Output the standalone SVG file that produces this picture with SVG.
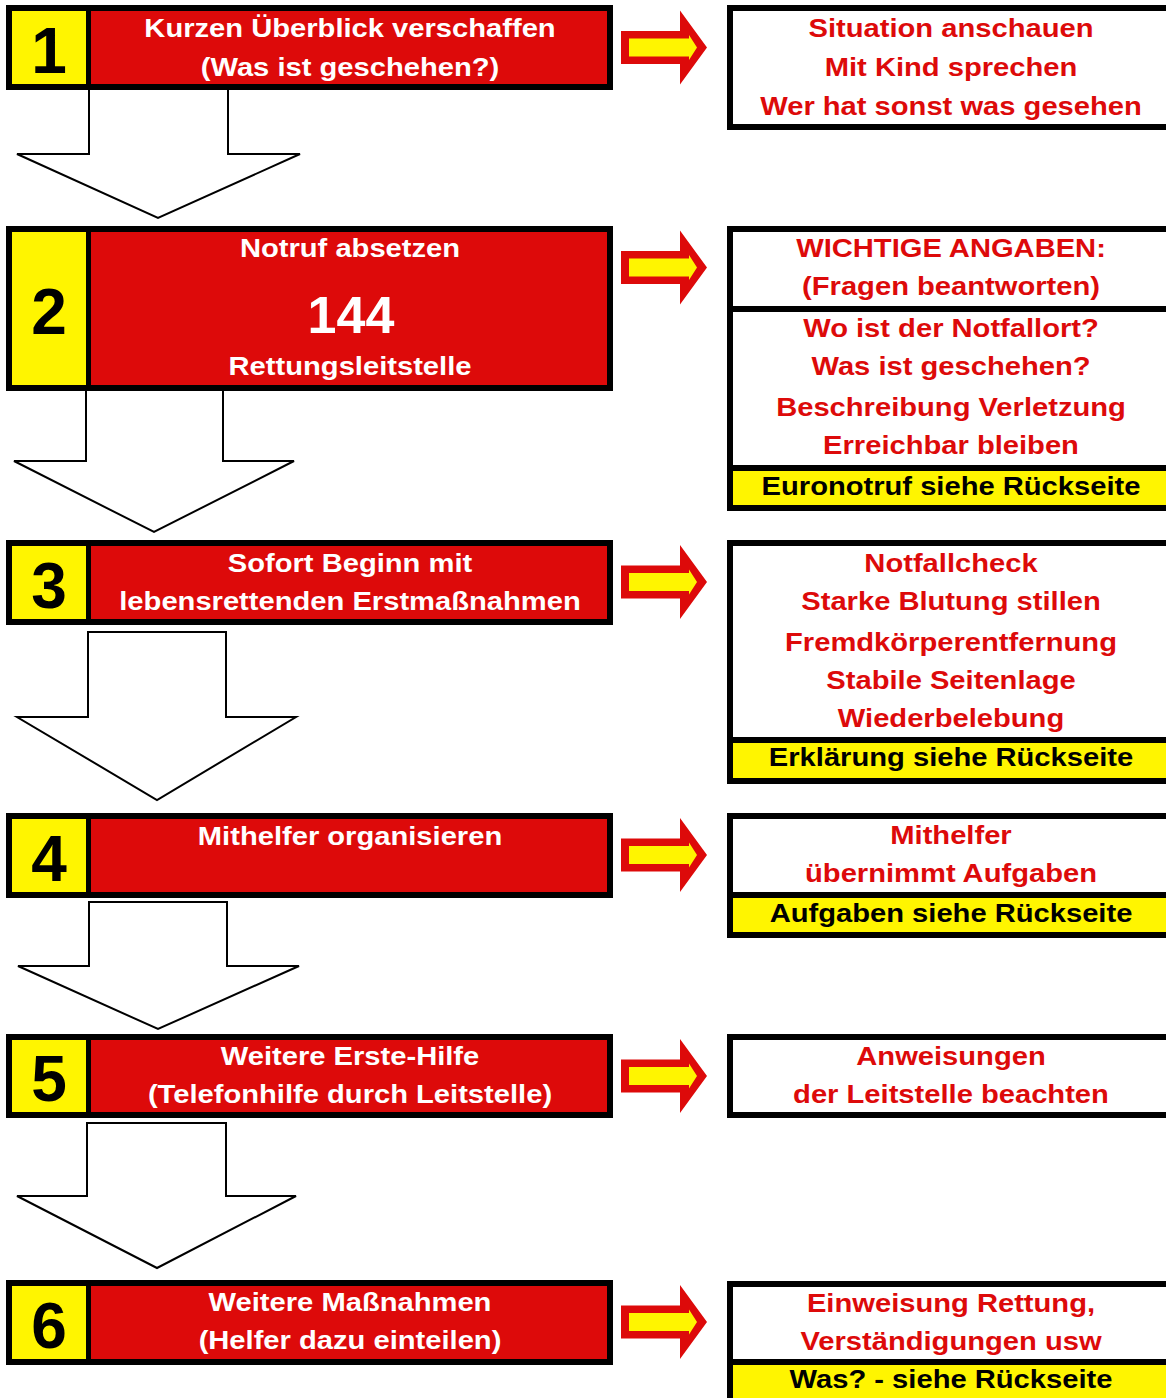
<svg xmlns="http://www.w3.org/2000/svg" xmlns:xlink="http://www.w3.org/1999/xlink" width="1166" height="1398" viewBox="0 0 1166 1398">
<style>
.blk{fill:#000}
.yel{fill:#FFF500}
.red{fill:#DD0A0A}
.wht{fill:#fff}
.t{font-family:"Liberation Sans",Arial,sans-serif;font-weight:bold;font-size:26.5px;text-anchor:middle}
.w{fill:#fff}
.r{fill:#DD0A0A}
.k{fill:#000}
.num{font-family:"Liberation Sans",Arial,sans-serif;font-weight:bold;font-size:64px;text-anchor:middle;fill:#000}
.big{font-family:"Liberation Sans",Arial,sans-serif;font-weight:bold;font-size:52px;text-anchor:middle;fill:#fff}
.down{fill:#fff;stroke:#000;stroke-width:2;stroke-linejoin:miter}
</style>
<defs>
<g id="ra">
<polygon points="621,-16.5 680,-16.5 680,-37 707,0 680,37 680,16.5 621,16.5" fill="#DD0A0A"/>
<polygon points="629,-9 689,-9 689,-12.5 697,0 689,12.5 689,9 629,9" fill="#FFF500"/>
</g>
</defs>
<rect width="1166" height="1398" fill="#fff"/>
<g id="connectors">
<polygon class="down" points="89,88 228,88 228,154 300,154 158,218 17,154 89,154"/>
<polygon class="down" points="86,389 223,389 223,461 294,461 154,532 14,461 86,461"/>
<polygon class="down" points="88,632 226,632 226,717 296,717 157,800 17,717 88,717"/>
<polygon class="down" points="89,902 227,902 227,966 299,966 158,1029 18,966 89,966"/>
<polygon class="down" points="87,1123 226,1123 226,1196 296,1196 157,1268 17,1196 87,1196"/>
<use xlink:href="#ra" href="#ra" transform="translate(0,47.5)"/>
<use xlink:href="#ra" href="#ra" transform="translate(0,267.5)"/>
<use xlink:href="#ra" href="#ra" transform="translate(0,582)"/>
<use xlink:href="#ra" href="#ra" transform="translate(0,855)"/>
<use xlink:href="#ra" href="#ra" transform="translate(0,1076)"/>
<use xlink:href="#ra" href="#ra" transform="translate(0,1322)"/>
</g>
<g id="step1">
<rect class="blk" x="6" y="5" width="607" height="85"/>
<rect class="yel" x="12" y="11" width="74" height="73"/>
<rect class="red" x="91" y="11" width="516" height="73"/>
<text class="num" x="49" y="73">1</text>
<text class="t w" transform="translate(350,37) scale(1.1,1)">Kurzen Überblick verschaffen</text>
<text class="t w" transform="translate(350,76) scale(1.1,1)">(Was ist geschehen?)</text>
</g>
<g id="info1">
<rect class="blk" x="727" y="5" width="445" height="125"/>
<rect class="wht" x="733" y="11" width="439" height="113"/>
<text class="t r" transform="translate(951,37) scale(1.1,1)">Situation anschauen</text>
<text class="t r" transform="translate(951,76) scale(1.1,1)">Mit Kind sprechen</text>
<text class="t r" transform="translate(951,115) scale(1.1,1)">Wer hat sonst was gesehen</text>
</g>
<g id="step2">
<rect class="blk" x="6" y="226" width="607" height="165"/>
<rect class="yel" x="12" y="232" width="74" height="153"/>
<rect class="red" x="91" y="232" width="516" height="153"/>
<text class="num" x="49" y="334">2</text>
<text class="t w" transform="translate(350,257) scale(1.1,1)">Notruf absetzen</text>
<text class="big" x="351" y="333">144</text>
<text class="t w" transform="translate(350,375) scale(1.1,1)">Rettungsleitstelle</text>
</g>
<g id="info2">
<rect class="blk" x="727" y="226" width="445" height="285"/>
<rect class="wht" x="733" y="232" width="439" height="74"/>
<rect class="wht" x="733" y="312" width="439" height="153"/>
<rect class="yel" x="733" y="471" width="439" height="34"/>
<text class="t r" transform="translate(951,257) scale(1.1,1)">WICHTIGE ANGABEN:</text>
<text class="t r" transform="translate(951,295) scale(1.1,1)">(Fragen beantworten)</text>
<text class="t r" transform="translate(951,337) scale(1.1,1)">Wo ist der Notfallort?</text>
<text class="t r" transform="translate(951,375) scale(1.1,1)">Was ist geschehen?</text>
<text class="t r" transform="translate(951,416) scale(1.1,1)">Beschreibung Verletzung</text>
<text class="t r" transform="translate(951,454) scale(1.1,1)">Erreichbar bleiben</text>
<text class="t k" transform="translate(951,495) scale(1.1,1)">Euronotruf siehe Rückseite</text>
</g>
<g id="step3">
<rect class="blk" x="6" y="540" width="607" height="85"/>
<rect class="yel" x="12" y="546" width="74" height="73"/>
<rect class="red" x="91" y="546" width="516" height="73"/>
<text class="num" x="49" y="608">3</text>
<text class="t w" transform="translate(350,572) scale(1.1,1)">Sofort Beginn mit</text>
<text class="t w" transform="translate(350,610) scale(1.1,1)">lebensrettenden Erstmaßnahmen</text>
</g>
<g id="info3">
<rect class="blk" x="727" y="540" width="445" height="244"/>
<rect class="wht" x="733" y="546" width="439" height="191"/>
<rect class="yel" x="733" y="743" width="439" height="35"/>
<text class="t r" transform="translate(951,572) scale(1.1,1)">Notfallcheck</text>
<text class="t r" transform="translate(951,610) scale(1.1,1)">Starke Blutung stillen</text>
<text class="t r" transform="translate(951,651) scale(1.1,1)">Fremdkörperentfernung</text>
<text class="t r" transform="translate(951,689) scale(1.1,1)">Stabile Seitenlage</text>
<text class="t r" transform="translate(951,727) scale(1.1,1)">Wiederbelebung</text>
<text class="t k" transform="translate(951,766) scale(1.1,1)">Erklärung siehe Rückseite</text>
</g>
<g id="step4">
<rect class="blk" x="6" y="813" width="607" height="85"/>
<rect class="yel" x="12" y="819" width="74" height="73"/>
<rect class="red" x="91" y="819" width="516" height="73"/>
<text class="num" x="49" y="881">4</text>
<text class="t w" transform="translate(350,845) scale(1.1,1)">Mithelfer organisieren</text>
</g>
<g id="info4">
<rect class="blk" x="727" y="813" width="445" height="125"/>
<rect class="wht" x="733" y="819" width="439" height="73"/>
<rect class="yel" x="733" y="898" width="439" height="34"/>
<text class="t r" transform="translate(951,844) scale(1.1,1)">Mithelfer</text>
<text class="t r" transform="translate(951,882) scale(1.1,1)">übernimmt Aufgaben</text>
<text class="t k" transform="translate(951,922) scale(1.1,1)">Aufgaben siehe Rückseite</text>
</g>
<g id="step5">
<rect class="blk" x="6" y="1034" width="607" height="84"/>
<rect class="yel" x="12" y="1040" width="74" height="72"/>
<rect class="red" x="91" y="1040" width="516" height="72"/>
<text class="num" x="49" y="1101">5</text>
<text class="t w" transform="translate(350,1065) scale(1.1,1)">Weitere Erste-Hilfe</text>
<text class="t w" transform="translate(350,1103) scale(1.1,1)">(Telefonhilfe durch Leitstelle)</text>
</g>
<g id="info5">
<rect class="blk" x="727" y="1034" width="445" height="84"/>
<rect class="wht" x="733" y="1040" width="439" height="72"/>
<text class="t r" transform="translate(951,1065) scale(1.1,1)">Anweisungen</text>
<text class="t r" transform="translate(951,1103) scale(1.1,1)">der Leitstelle beachten</text>
</g>
<g id="step6">
<rect class="blk" x="6" y="1280" width="607" height="85"/>
<rect class="yel" x="12" y="1286" width="74" height="73"/>
<rect class="red" x="91" y="1286" width="516" height="73"/>
<text class="num" x="49" y="1348">6</text>
<text class="t w" transform="translate(350,1311) scale(1.1,1)">Weitere Maßnahmen</text>
<text class="t w" transform="translate(350,1349) scale(1.1,1)">(Helfer dazu einteilen)</text>
</g>
<g id="info6">
<rect class="blk" x="727" y="1281" width="445" height="125"/>
<rect class="wht" x="733" y="1287" width="439" height="72"/>
<rect class="yel" x="733" y="1365" width="439" height="40"/>
<text class="t r" transform="translate(951,1312) scale(1.1,1)">Einweisung Rettung,</text>
<text class="t r" transform="translate(951,1350) scale(1.1,1)">Verständigungen usw</text>
<text class="t k" transform="translate(951,1388) scale(1.1,1)">Was? - siehe Rückseite</text>
</g>
</svg>
